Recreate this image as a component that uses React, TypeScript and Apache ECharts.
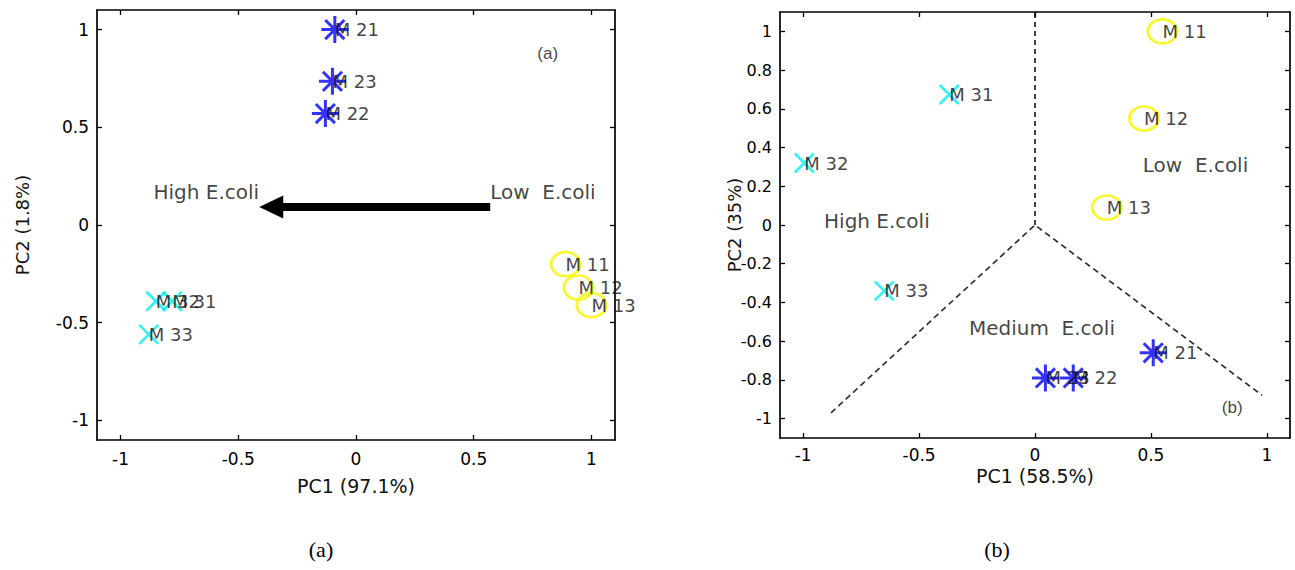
import React, { useEffect, useRef } from 'react';
import * as echarts from 'echarts';

// ---------- axes ----------
const AXIS_MIN = -1.1;
const AXIS_MAX = 1.1;
const aTicksX = [-1, -0.5, 0, 0.5, 1];
const aTicksY = [-1, -0.5, 0, 0.5, 1];
const bTicksX = [-1, -0.5, 0, 0.5, 1];
const bTicksY = [-1, -0.8, -0.6, -0.4, -0.2, 0, 0.2, 0.4, 0.6, 0.8, 1];
const aNameX = 'PC1 (97.1%)';
const aNameY = 'PC2 (1.8%)';
const bNameX = 'PC1 (58.5%)';
const bNameY = 'PC2 (35%)';

// ---------- panel (a) ----------
const aStarNames = ['M 21', 'M 23', 'M 22'];
const aStarX = [-0.09, -0.1, -0.13];
const aStarY = [1.0, 0.735, 0.57];
const aCrossNames = ['M 32', 'M 31', 'M 33'];
const aCrossX = [-0.85, -0.78, -0.88];
const aCrossY = [-0.39, -0.39, -0.56];
const aCircleNames = ['M 11', 'M 12', 'M 13'];
const aCircleX = [0.89, 0.945, 1.0];
const aCircleY = [-0.2, -0.32, -0.41];
const aArrowX = [0.57, -0.36];
const aArrowY = [0.092, 0.092];
const aNoteText = ['High E.coli', 'Low  E.coli'];
const aNoteX = [-0.86, 0.57];
const aNoteY = [0.17, 0.17];
const aTagText = ['(a)'];
const aTagX = [0.77];
const aTagY = [0.88];

// ---------- panel (b) ----------
const bStarNames = ['M 21', 'M 23', 'M 22'];
const bStarX = [0.51, 0.045, 0.165];
const bStarY = [-0.66, -0.79, -0.79];
const bCrossNames = ['M 31', 'M 32', 'M 33'];
const bCrossX = [-0.37, -0.995, -0.65];
const bCrossY = [0.674, 0.32, -0.34];
const bCircleNames = ['M 11', 'M 12', 'M 13'];
const bCircleX = [0.55, 0.47, 0.31];
const bCircleY = [1.0, 0.55, 0.09];
const bDividerX = [-0.88, 0, 0.98];
const bDividerY = [-0.97, 0, -0.88];
const bVerticalX = [0, 0];
const bVerticalY = [0, 1.1];
const bNoteText = ['High E.coli', 'Low  E.coli', 'Medium  E.coli'];
const bNoteX = [-0.91, 0.465, -0.285];
const bNoteY = [0.02, 0.31, -0.53];
const bTagText = ['(b)'];
const bTagX = [0.806];
const bTagY = [-0.94];

const captions = ['(a)', '(b)'];

// ---------- styles ----------
const FONT = 'DejaVu Sans';
const TEXT = '#000';
const STAR = 'path://M12,0L12,26M0,13L24,13M3.5,3.8L20.5,22.2M3.5,22.2L20.5,3.8';
const CROSS = 'path://M0,0L20,20M0,20L20,0';
const RING = 'path://M0,12A14,12 0 1,1 28,12A14,12 0 1,1 0,12Z';

const fmt = (v: number) => String(Math.round(v * 10) / 10);

function pts(xs: number[], ys: number[], names?: string[]) {
  return xs.map((x, i) => ({ value: [x, ys[i]], name: names ? names[i] : '' }));
}

const pointLabel = {
  show: true,
  formatter: '{b}',
  position: ['50%', '50%'],
  align: 'left',
  verticalAlign: 'middle',
  fontFamily: FONT,
  fontSize: 18,
  color: '#111',
};

function markerSeries(idx: number, names: string[], xs: number[], ys: number[], symbol: string, size: number[], color: string, width: number) {
  return {
    type: 'scatter',
    xAxisIndex: idx * 2,
    yAxisIndex: idx * 2,
    symbol,
    symbolSize: size,
    symbolKeepAspect: false,
    itemStyle: { color: 'rgba(0,0,0,0)', borderColor: color, borderWidth: width },
    label: pointLabel,
    data: pts(xs, ys, names),
    silent: true,
    z: 5,
  };
}

function noteSeries(idx: number, texts: string[], xs: number[], ys: number[], fontSize: number, family: string) {
  return {
    type: 'scatter',
    xAxisIndex: idx * 2,
    yAxisIndex: idx * 2,
    symbolSize: 0,
    label: {
      show: true,
      formatter: '{b}',
      position: 'right',
      distance: 0,
      fontFamily: family,
      fontSize,
      color: '#111',
    },
    data: pts(xs, ys, texts),
    silent: true,
    z: 6,
  };
}

function axesFor(gridIndex: number, ticksX: number[], ticksY: number[], nameX: string, nameY: string, cfg: any) {
  const line = { show: true, onZero: false, lineStyle: { color: '#000', width: 1.7 } };
  const tick = (vals: number[]) => ({ show: true, inside: true, length: 5, customValues: vals, lineStyle: { color: '#000', width: 1.3 } });
  const lab = (vals: number[], margin: number, size: number) => ({
    show: true,
    customValues: vals,
    formatter: fmt,
    fontFamily: FONT,
    fontSize: size,
    color: TEXT,
    margin,
  });
  const base = { type: 'value', gridIndex, min: AXIS_MIN, max: AXIS_MAX, splitLine: { show: false }, axisLine: line };
  const xAxes = [
    {
      ...base,
      position: 'bottom',
      axisTick: tick(ticksX),
      axisLabel: lab(ticksX, cfg.xMargin, 17),
      name: nameX,
      nameLocation: 'middle',
      nameGap: cfg.xNameGap,
      nameMoveOverlap: false,
      nameTextStyle: { fontFamily: FONT, fontSize: 19, color: '#111' },
    },
    { ...base, position: 'top', axisTick: tick(ticksX), axisLabel: { show: false } },
  ];
  const yAxes = [
    {
      ...base,
      position: 'left',
      axisTick: tick(ticksY),
      axisLabel: lab(ticksY, 8, cfg.yLabelSize),
      name: nameY,
      nameLocation: 'middle',
      nameRotate: 90,
      nameGap: cfg.yNameGap,
      nameMoveOverlap: false,
      nameTextStyle: { fontFamily: FONT, fontSize: 18, color: '#111' },
    },
    { ...base, position: 'right', axisTick: tick(ticksY), axisLabel: { show: false } },
  ];
  return { xAxes, yAxes };
}

export default function App() {
  const ref = useRef<HTMLDivElement>(null);

  useEffect(() => {
    if (!ref.current) return;
    const chart = echarts.init(ref.current, undefined, { renderer: 'svg' });

    const axA = axesFor(0, aTicksX, aTicksY, aNameX, aNameY, { xMargin: 10, xNameGap: 36, yNameGap: 66, yLabelSize: 17 });
    const axB = axesFor(1, bTicksX, bTicksY, bNameX, bNameY, { xMargin: 8, xNameGap: 28, yNameGap: 37, yLabelSize: 16 });

    const option: any = {
      animation: false,
      backgroundColor: '#ffffff',
      textStyle: { fontFamily: FONT },
      grid: [
        { left: 97, top: 10, width: 518, height: 430 },
        { left: 780, top: 12, width: 510, height: 426 },
      ],
      xAxis: [...axA.xAxes, ...axB.xAxes],
      yAxis: [...axA.yAxes, ...axB.yAxes],
      graphic: [
        { type: 'text', x: 321, y: 549, style: { text: captions[0], fontFamily: 'Liberation Serif', fontSize: 22, fill: '#000', align: 'center', verticalAlign: 'middle' } },
        { type: 'text', x: 997, y: 549, style: { text: captions[1], fontFamily: 'Liberation Serif', fontSize: 22, fill: '#000', align: 'center', verticalAlign: 'middle' } },
      ],
      series: [
        // panel (a)
        {
          type: 'line',
          xAxisIndex: 0,
          yAxisIndex: 0,
          data: [
            { value: [aArrowX[0], aArrowY[0]], symbol: 'none' },
            { value: [aArrowX[1], aArrowY[1]], symbol: 'triangle', symbolRotate: 90, symbolSize: [23, 24] },
          ],
          lineStyle: { color: '#000', width: 8, cap: 'butt' },
          itemStyle: { color: '#000' },
          silent: true,
          z: 4,
        },
        markerSeries(0, aStarNames, aStarX, aStarY, STAR, [27, 27], '#0000ff', 3),
        markerSeries(0, aCrossNames, aCrossX, aCrossY, CROSS, [19, 19], '#00eeee', 2.6),
        markerSeries(0, aCircleNames, aCircleX, aCircleY, RING, [29, 24], '#f5f500', 2.8),
        noteSeries(0, aNoteText, aNoteX, aNoteY, 20, FONT),
        noteSeries(0, aTagText, aTagX, aTagY, 17, 'Liberation Sans'),
        // panel (b)
        {
          type: 'line',
          xAxisIndex: 2,
          yAxisIndex: 2,
          data: pts(bDividerX, bDividerY).map((d) => d.value),
          symbol: 'none',
          lineStyle: { color: '#333', width: 1.7, type: [6, 4] },
          silent: true,
          z: 3,
        },
        {
          type: 'line',
          xAxisIndex: 2,
          yAxisIndex: 2,
          data: pts(bVerticalX, bVerticalY).map((d) => d.value),
          symbol: 'none',
          lineStyle: { color: '#000', width: 1.5, type: [5, 4] },
          silent: true,
          z: 3,
        },
        markerSeries(1, bStarNames, bStarX, bStarY, STAR, [27, 27], '#0000ff', 3),
        markerSeries(1, bCrossNames, bCrossX, bCrossY, CROSS, [19, 19], '#00eeee', 2.6),
        markerSeries(1, bCircleNames, bCircleX, bCircleY, RING, [29, 24], '#f5f500', 2.8),
        noteSeries(1, bNoteText, bNoteX, bNoteY, 20, FONT),
        noteSeries(1, bTagText, bTagX, bTagY, 17, 'Liberation Sans'),
      ],
    };

    chart.setOption(option);
    return () => chart.dispose();
  }, []);

  return (
    <div
      ref={ref}
      style={{ position: 'fixed', left: 0, top: 0, width: 1295, height: 570, background: '#fff' }}
    />
  );
}
